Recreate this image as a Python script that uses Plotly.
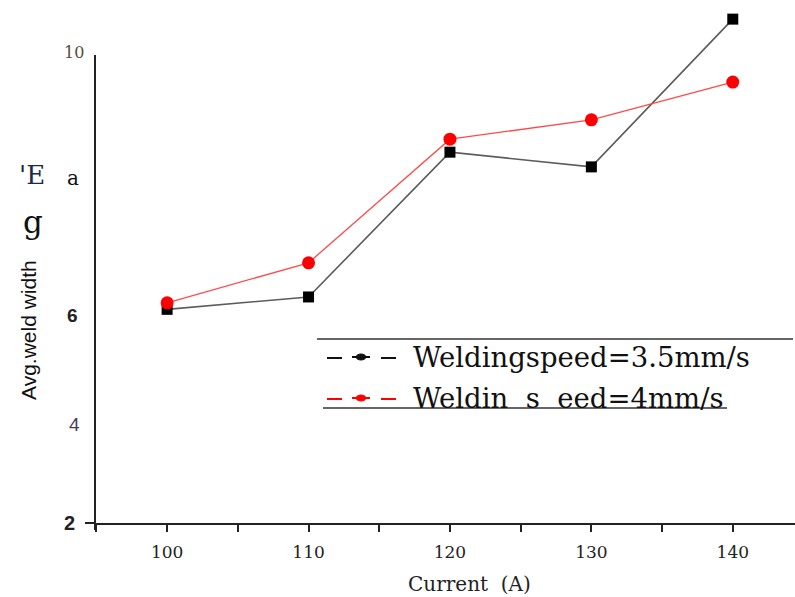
import plotly.graph_objects as go

# ---- data (y in the chart's own linear pixel scale) ----
current = [100, 110, 120, 130, 140]
speed_35 = [5.63, 5.84, 8.30, 8.05, 10.56]
speed_40 = [5.74, 6.42, 8.52, 8.85, 9.49]
ytick_vals = [10.0, 7.86, 5.52, 3.68, 2.0]
ytick_text = ["10", "a", "6", "4", "2"]
xtick_vals = [100, 110, 120, 130, 140]
legend_names = ["Weldingspeed=3.5mm/s", "Weldin  s  eed=4mm/s"]

W, H = 795, 597
L, R, T, B = 95, 0, 5, 74
PW, PH = W - L - R, H - T - B


def px(x):
    return (x - L) / PW


def py(y):
    return (H - B - y) / PH


fig = go.Figure()
fig.add_trace(go.Scatter(
    x=current, y=speed_35, mode="lines+markers", cliponaxis=False,
    line=dict(color="#5c5c5c", width=1.6),
    marker=dict(symbol="square", size=11, color="black"),
    showlegend=False))
fig.add_trace(go.Scatter(
    x=current, y=speed_40, mode="lines+markers", cliponaxis=False,
    line=dict(color="#ff4a4a", width=1.3),
    marker=dict(symbol="circle", size=13, color="#ff0000"),
    showlegend=False))

shapes = []
# y axis line (partial) and cross at 2
shapes.append(dict(type="line", xref="paper", yref="paper", x0=0, x1=0,
                   y0=py(530), y1=py(55), line=dict(color="#222", width=2)))
shapes.append(dict(type="line", xref="paper", yref="paper", x0=px(85), x1=0,
                   y0=0, y1=0, line=dict(color="#222", width=2)))

annotations = []
serif = "DejaVu Serif"
sans = "Liberation Sans"
# y tick labels with mixed fonts: (family, size, color, x-center, bold)
fonts = {"10": (serif, 16, "#5a4a3a", 74, False), "a": (serif, 20, "#111", 73, False),
         "6": (sans, 19, "#222", 72, True), "4": (sans, 19, "#4a3a5a", 74, False),
         "2": (sans, 20, "#222", 69, True)}
for v, t in zip(ytick_vals, ytick_text):
    fam, sz, col, xc, bold = fonts[t]
    txt = "<b>%s</b>" % t if bold else t
    annotations.append(dict(x=px(xc), y=v, xref="paper", yref="y", text=txt,
                            showarrow=False, xanchor="center", yanchor="middle",
                            font=dict(family=fam, size=sz, color=col)))
# y axis title fragments
annotations.append(dict(x=px(28), y=py(330), xref="paper", yref="paper",
                        text="Avg.weld width", textangle=-90, showarrow=False,
                        xanchor="center", yanchor="middle",
                        font=dict(family=sans, size=21, color="#111")))
annotations.append(dict(x=px(33), y=py(222), xref="paper", yref="paper",
                        text="g", showarrow=False, xanchor="center", yanchor="middle",
                        font=dict(family=serif, size=31, color="#111")))
annotations.append(dict(x=px(32), y=py(175), xref="paper", yref="paper",
                        text="'E", showarrow=False, xanchor="center", yanchor="middle",
                        font=dict(family=serif, size=26, color="#1a2a4a")))
# x axis title
annotations.append(dict(x=px(469), y=py(584), xref="paper", yref="paper",
                        text="Current  (A)", showarrow=False, xanchor="center", yanchor="middle",
                        font=dict(family=serif, size=20, color="#222")))
# legend drawn manually
shapes.append(dict(type="line", xref="paper", yref="paper", x0=px(317), x1=px(793),
                   y0=py(339), y1=py(339), line=dict(color="#333", width=1.5)))
shapes.append(dict(type="line", xref="paper", yref="paper", x0=px(323), x1=px(727),
                   y0=py(408), y1=py(408), line=dict(color="#333", width=1.5)))
leg_y = [357, 398]
leg_col = ["#111111", "#ff0000"]
for yy, col, name in zip(leg_y, leg_col, legend_names):
    for a, b in [(327, 342), (381, 396)]:
        shapes.append(dict(type="line", xref="paper", yref="paper", x0=px(a), x1=px(b),
                           y0=py(yy + 1), y1=py(yy + 1), line=dict(color=col, width=2)))
    shapes.append(dict(type="line", xref="paper", yref="paper", x0=px(352), x1=px(370),
                       y0=py(yy), y1=py(yy), line=dict(color=col, width=2)))
    shapes.append(dict(type="circle", xref="paper", yref="paper", x0=px(356), x1=px(366),
                       y0=py(yy + 3), y1=py(yy - 3), fillcolor=col, line=dict(color=col, width=1)))
    annotations.append(dict(x=px(411), y=py(yy), xref="paper", yref="paper", text=name,
                            showarrow=False, xanchor="left", yanchor="middle",
                            font=dict(family=serif, size=27.5, color="#111")))

fig.update_layout(
    width=W, height=H, margin=dict(l=L, r=R, t=T, b=B),
    plot_bgcolor="white", paper_bgcolor="white",
    shapes=shapes, annotations=annotations,
    xaxis=dict(range=[94.9, 144.4], tickvals=xtick_vals, ticks="outside", ticklen=7,
               tickwidth=2, tickcolor="#222", showline=True, linecolor="#222", linewidth=2,
               showgrid=False, zeroline=False, ticklabelstandoff=6,
               minor=dict(ticks="outside", dtick=5, tick0=95, ticklen=7, tickwidth=2,
                          tickcolor="#222", showgrid=False),
               tickfont=dict(family=serif, size=17, color="#222")),
    yaxis=dict(range=[2.0, 10.80], showticklabels=False, ticks="", showline=False,
               showgrid=False, zeroline=False),
)

fig.write_html("out.html")
